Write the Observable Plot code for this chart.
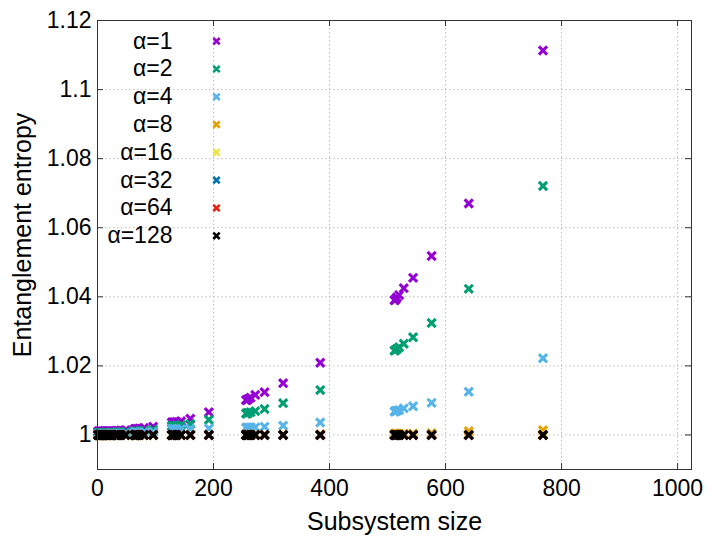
<!DOCTYPE html>
<html><head><meta charset="utf-8">
<script src="https://cdn.jsdelivr.net/npm/d3@7"></script>
<script src="https://cdn.jsdelivr.net/npm/@observablehq/plot@0.6"></script>
<style>body{margin:0;background:#fff;}</style>
</head><body><div id="chart"></div>
<script>
// Subsystem sizes (x)
const sizes = [1,2,3,4,5,6,8,9,10,12,16,17,18,20,24,32,33,34,36,40,48,64,65,66,68,72,80,96,128,129,130,132,136,144,160,192,256,257,258,260,264,272,288,320,384,512,513,514,516,520,528,544,576,640,768];

const alphaLabels = ["α=1","α=2","α=4","α=8","α=16","α=32","α=64","α=128"];
const alphaColors = ["#9400d3","#009e73","#56b4e9","#e69f00","#f0e442","#0072b2","#e51e10","#000000"];

const entropyA1 = [1.0010,1.0010,1.0010,1.0010,1.0010,1.0010,1.0010,1.0010,1.0010,1.0011,1.0011,1.0011,1.0011,1.0011,1.0011,1.0012,1.0012,1.0012,1.0012,1.0013,1.0014,1.0017,1.0017,1.0017,1.0018,1.0019,1.0020,1.0024,1.0036,1.0036,1.0036,1.0037,1.0038,1.0040,1.0047,1.0066,1.0101,1.0101,1.0102,1.0104,1.0108,1.0116,1.0124,1.0150,1.0209,1.0390,1.0391,1.0393,1.0398,1.0405,1.0425,1.0455,1.0518,1.0670,1.1113];
const entropyA2 = [1.0006,1.0006,1.0006,1.0006,1.0006,1.0006,1.0006,1.0006,1.0006,1.0006,1.0006,1.0006,1.0006,1.0006,1.0006,1.0007,1.0007,1.0007,1.0007,1.0008,1.0008,1.0010,1.0010,1.0010,1.0010,1.0011,1.0012,1.0015,1.0026,1.0026,1.0026,1.0027,1.0027,1.0029,1.0032,1.0044,1.0062,1.0062,1.0063,1.0064,1.0066,1.0069,1.0075,1.0092,1.0130,1.0244,1.0245,1.0246,1.0249,1.0254,1.0264,1.0283,1.0324,1.0423,1.0721];
const entropyA4 = [1.0003,1.0003,1.0003,1.0003,1.0003,1.0003,1.0003,1.0003,1.0003,1.0003,1.0003,1.0003,1.0003,1.0003,1.0003,1.0004,1.0004,1.0004,1.0004,1.0004,1.0004,1.0007,1.0007,1.0007,1.0007,1.0007,1.0007,1.0009,1.0017,1.0017,1.0017,1.0017,1.0017,1.0017,1.0018,1.0019,1.0021,1.0021,1.0021,1.0021,1.0022,1.0022,1.0024,1.0027,1.0036,1.0068,1.0068,1.0069,1.0070,1.0072,1.0077,1.0083,1.0093,1.0125,1.0222];
const entropyA8 = [1,1,1,1,1,1,1,1,1,1,1,1,1,1,1,1,1,1,1,1,1,1,1,1,1,1,1,1,1,1,1,1,1,1,1,1,1.0001,1.0001,1.0001,1.0001,1.0001,1.0001,1.0001,1.0001,1.0002,1.0004,1.0004,1.0004,1.0004,1.0004,1.0004,1.0004,1.0005,1.0011,1.0014];
const entropyA16 = [1,1,1,1,1,1,1,1,1,1,1,1,1,1,1,1,1,1,1,1,1,1,1,1,1,1,1,1,1,1,1,1,1,1,1,1,1,1,1,1,1,1,1,1,1,1.0001,1.0001,1.0001,1.0001,1.0001,1.0001,1.0001,1.0001,1.0002,1.0003];
const entropyA32 = [1,1,1,1,1,1,1,1,1,1,1,1,1,1,1,1,1,1,1,1,1,1,1,1,1,1,1,1,1,1,1,1,1,1,1,1,1,1,1,1,1,1,1,1,1,1,1,1,1,1,1,1,1,1,1];
const entropyA64 = [1,1,1,1,1,1,1,1,1,1,1,1,1,1,1,1,1,1,1,1,1,1,1,1,1,1,1,1,1,1,1,1,1,1,1,1,1,1,1,1,1,1,1,1,1,1,1,1,1,1,1,1,1,1,1];
const entropyA128 = [1,1,1,1,1,1,1,1,1,1,1,1,1,1,1,1,1,1,1,1,1,1,1,1,1,1,1,1,1,1,1,1,1,1,1,1,1,1,1,1,1,1,1,1,1,1,1,1,1,1,1,1,1,1,1];

const xTicks = [0,200,400,600,800,1000];
const yTicks = [1,1.02,1.04,1.06,1.08,1.1,1.12];
const xLabel = "Subsystem size";
const yLabel = "Entanglement entropy";

const series = [entropyA1,entropyA2,entropyA4,entropyA8,entropyA16,entropyA32,entropyA64,entropyA128];

const W = 719, H = 540, mL = 97, mR = 28, mT = 20, mB = 71;
const plotW = W - mL - mR, plotH = H - mT - mB;
const FONT = "'Liberation Sans', Arial, Helvetica, sans-serif";
const tickLen = 6;
const gridStyle = {stroke: "#bdbdbd", strokeOpacity: 1, strokeWidth: 1, strokeDasharray: "1.5,2.5"};

const marks = [
  Plot.gridX(xTicks.filter(d => d > 0), gridStyle),
  Plot.gridY(yTicks, gridStyle),
  // inward tick marks (bottom/top, left/right)
  Plot.ruleX(xTicks, {x: d => d, insetTop: plotH - tickLen, stroke: "#333"}),
  Plot.ruleX(xTicks, {x: d => d, insetBottom: plotH - tickLen, stroke: "#333"}),
  Plot.ruleY(yTicks, {y: d => d, insetRight: plotW - tickLen, stroke: "#333"}),
  Plot.ruleY(yTicks, {y: d => d, insetLeft: plotW - tickLen, stroke: "#333"}),
  Plot.axisX(xTicks, {tickSize: 0, tickPadding: 10, fontSize: 23, label: null, tickFormat: d => String(d)}),
  Plot.axisY(yTicks, {tickSize: 0, tickPadding: 6, fontSize: 23, label: null, tickFormat: d => String(d)}),
  Plot.text([xLabel], {frameAnchor: "bottom", dy: 52, fontSize: 25, textAnchor: "middle", lineAnchor: "middle", fill: "#000"}),
  Plot.text([yLabel], {frameAnchor: "left", dx: -75, dy: -10, rotate: -90, fontSize: 25, textAnchor: "middle", lineAnchor: "middle", fill: "#000"})
];

series.forEach((vals, i) => {
  const rows = sizes.map((s, j) => ({size: s, entropy: vals[j]}));
  marks.push(Plot.dot(rows, {x: "size", y: "entropy", symbol: "times", r: 3.8, stroke: alphaColors[i], strokeWidth: 3.1}));
});

// legend inside plot
alphaLabels.forEach((lab, i) => {
  marks.push(Plot.text([lab], {frameAnchor: "top-left", dx: 75, dy: 20.7 + i * 27.8, textAnchor: "end", lineAnchor: "middle", fontSize: 23, fill: "#000"}));
  marks.push(Plot.dot([0], {frameAnchor: "top-left", dx: 119, dy: 20.7 + i * 27.8, symbol: "times", r: 3.0, stroke: alphaColors[i], strokeWidth: 2.6}));
});

marks.push(Plot.frame({stroke: "#333", strokeWidth: 1}));

const chart = Plot.plot({
  width: W, height: H,
  marginLeft: mL, marginRight: mR, marginTop: mT, marginBottom: mB,
  x: {domain: [0, 1024], axis: null},
  y: {domain: [0.99, 1.12], axis: null},
  style: {fontFamily: FONT, fontSize: "22px", background: "#fff", color: "#000"},
  marks
});
document.getElementById("chart").appendChild(chart);
</script>
</body></html>
